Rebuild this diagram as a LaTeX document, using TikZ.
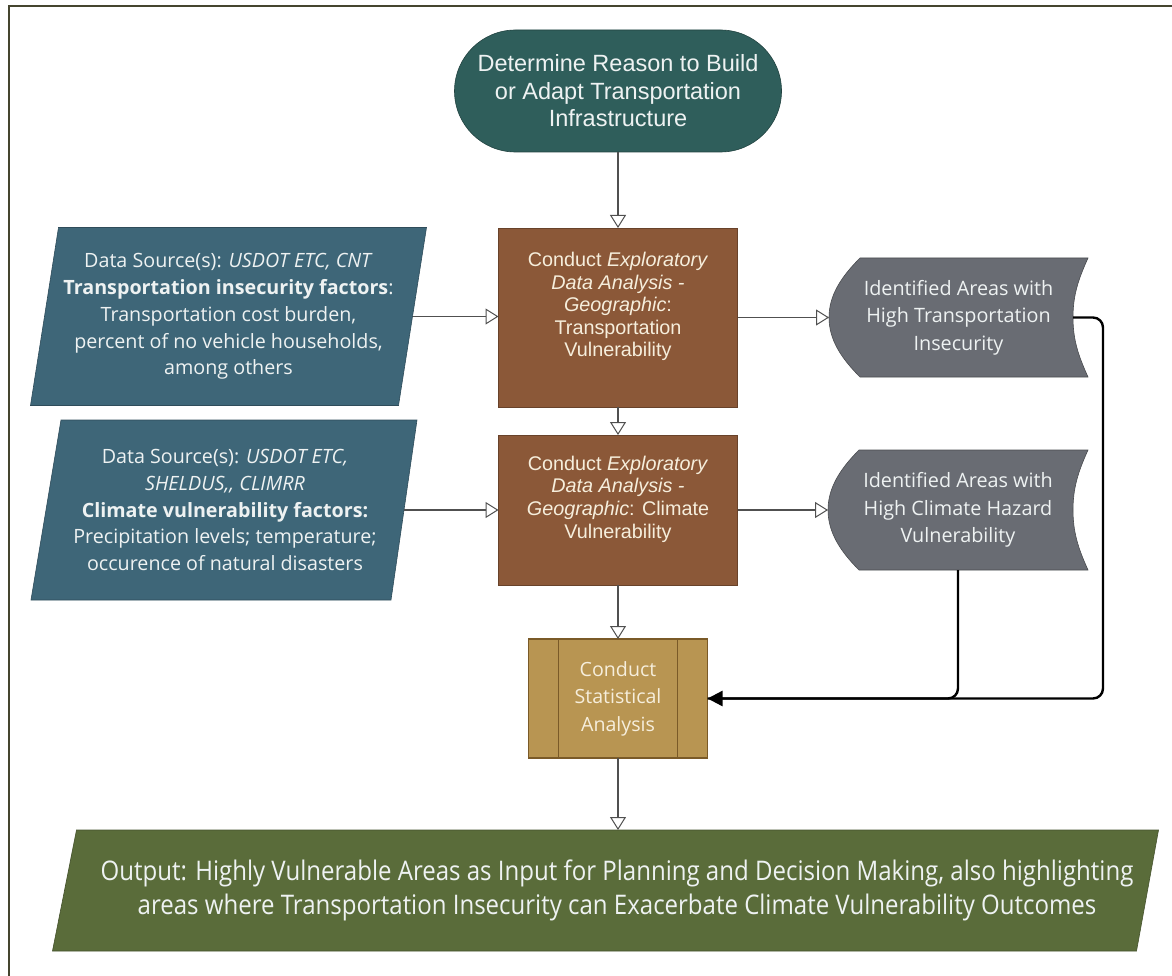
\documentclass[tikz,border=0pt]{standalone}
\usepackage{fontspec}
\setmainfont{Liberation Sans}
\newfontfamily\opensans{Open Sans}
\newfontfamily\condsans[FakeStretch=0.89]{Open Sans}
\usetikzlibrary{arrows.meta,backgrounds}

\definecolor{framecol}{HTML}{45452F}
\definecolor{termfill}{HTML}{2F5E5B}
\definecolor{datafill}{HTML}{3E6678}
\definecolor{edafill}{HTML}{8B5838}
\definecolor{areafill}{HTML}{696C73}
\definecolor{statfill}{HTML}{B89552}
\definecolor{statline}{HTML}{7A5A28}
\definecolor{outfill}{HTML}{5A6C3A}
\definecolor{linegray}{HTML}{505050}
\definecolor{cream}{HTML}{F6EEDC}
\definecolor{paletext}{HTML}{EEF2F2}

\begin{document}
\begin{tikzpicture}[x=1pt,y=-1pt,
  every node/.style={inner sep=0pt, outer sep=0pt},
  flow/.style={draw=linegray, line width=1.1pt,
    -{Triangle[length=13pt,width=16pt,fill=white,line width=1pt]}},
  heavy/.style={draw=black, line width=2.4pt, rounded corners=10pt},
  termbox/.style={rectangle, rounded corners=61pt, minimum width=327pt,
    minimum height=122pt, fill=termfill, draw=termfill!70!black, line width=0.6pt,
    align=center, text=paletext, font=\fontsize{23.5}{27.5}\selectfont},
  datatext/.style={rectangle, align=center, text=paletext,
    font=\opensans\fontsize{19.7}{26.8}\selectfont},
  datashape/.style={fill=datafill, draw=datafill!75!black, line width=0.6pt},
  edabox/.style={rectangle, minimum width=239pt, fill=edafill,
    draw=edafill!75!black, line width=0.8pt},
  edatext/.style={align=center, text=cream,
    font=\fontsize{19.8}{22.6}\selectfont},
  areatext/.style={rectangle, align=center, text=paletext,
    font=\opensans\fontsize{19.8}{27.5}\selectfont},
  areashape/.style={fill=areafill, draw=areafill!70!black, line width=0.6pt},
  statbox/.style={rectangle, minimum width=179pt, minimum height=119pt,
    fill=statfill, draw=statline, line width=1.2pt, align=center, text=cream,
    font=\opensans\fontsize{19.6}{27.5}\selectfont},
  outtext/.style={rectangle, align=center, text=paletext,
    font=\condsans\fontsize{27}{34}\selectfont},
  outshape/.style={fill=outfill, draw=outfill!75!black, line width=0.6pt}
]
\useasboundingbox (0,0) rectangle (1172,976);

% page frame
\draw[framecol, line width=2.6pt] (1172,6) -- (9,6) -- (9,976);

% start terminator
\node[termbox] (start) at (618,91)
  {Determine Reason to Build\\or Adapt Transportation\\Infrastructure};

% data source parallelograms
\node[datatext, minimum width=368pt, minimum height=178pt] (ds1) at (228.5,316.5)
  {Data Source(s): \textit{USDOT ETC, CNT}\\
   \textbf{Transportation insecurity factors}:\\
   Transportation cost burden,\\
   percent of no vehicle households,\\
   among others};
\node[datatext, minimum width=358pt, minimum height=180pt] (ds2) at (225,510)
  {Data Source(s): \textit{USDOT ETC,}\\
   \textit{SHELDUS,, CLIMRR}\\
   \textbf{Climate vulnerability factors:}\\
   Precipitation levels; temperature;\\
   occurence of natural disasters};

% exploratory analysis boxes
\node[edabox, minimum height=179pt] (eda1) at (618,317.5) {};
\node[edatext] (eda1t) at ([yshift=11pt]eda1.center)
  {Conduct \textit{Exploratory}\\\textit{Data Analysis -}\\\textit{Geographic}:\\
   Transportation\\Vulnerability};
\node[edabox, minimum height=150pt] (eda2) at (618,510) {};
\node[edatext] (eda2t) at ([yshift=11pt]eda2.center)
  {Conduct \textit{Exploratory}\\\textit{Data Analysis -}\\
   \textit{Geographic}: Climate\\Vulnerability};

% identified areas (stored data)
\node[areatext, minimum width=259pt, minimum height=119pt] (ti) at (958.5,317.5)
  {Identified Areas with\\High Transportation\\Insecurity};
\node[areatext, minimum width=260pt, minimum height=120pt] (ci) at (958,510)
  {Identified Areas with\\High Climate Hazard\\Vulnerability};

% statistical analysis (predefined process)
\node[statbox] (st) at (618,698.5) {Conduct\\Statistical\\Analysis};
\draw[statline, line width=1.2pt] ([xshift=30pt]st.north west) -- ([xshift=30pt]st.south west);
\draw[statline, line width=1.2pt] ([xshift=-30pt]st.north east) -- ([xshift=-30pt]st.south east);

% output parallelogram
\node[outtext, minimum width=1083pt, minimum height=121pt] (out) at (606,890.5)
  {\hspace*{22pt}Output: Highly Vulnerable Areas as Input for Planning and Decision Making, also highlighting\\
   \hspace*{22pt}areas where Transportation Insecurity can Exacerbate Climate Vulnerability Outcomes};

\begin{scope}[on background layer]
  \draw[datashape] ([xshift=14pt]ds1.north west) -- ([xshift=14pt]ds1.north east)
    -- ([xshift=-14pt]ds1.south east) -- ([xshift=-14pt]ds1.south west) -- cycle;
  \draw[datashape] ([xshift=15pt]ds2.north west) -- ([xshift=13pt]ds2.north east)
    -- ([xshift=-13pt]ds2.south east) -- ([xshift=-15pt]ds2.south west) -- cycle;
  \draw[outshape] ([xshift=12pt]out.north west) -- ([xshift=11pt]out.north east)
    -- ([xshift=-11pt]out.south east) -- ([xshift=-12pt]out.south west) -- cycle;
  \foreach \n in {ti,ci}{
    \draw[areashape] ([xshift=31pt]\n.north west) -- (\n.north east)
      .. controls +(-10,22) and +(0,-22) .. ([xshift=-15pt]\n.east)
      .. controls +(0,22) and +(-10,-22) .. (\n.south east)
      -- ([xshift=31pt]\n.south west)
      .. controls +(-19,-19) and +(0,22) .. (\n.west)
      .. controls +(0,-22) and +(-19,19) .. ([xshift=31pt]\n.north west) -- cycle;
  }
\end{scope}

% flow connectors
\draw[flow] (start.south) -- (eda1.north);
\draw[flow] (eda1.south) -- (eda2.north);
\draw[flow] (eda2.south) -- (st.north);
\draw[flow] (st.south) -- (out.north -| st.south);
\draw[flow] (ds1.east) -- (ds1.east -| eda1.west);
\draw[flow] (ds2.east) -- (eda2.west);
\draw[flow] (eda1.east) -- (ti.west);
\draw[flow] (eda2.east) -- (ci.west);

% results feeding the statistical analysis
\draw[heavy] (ci.south) |- (st.east);
\draw[heavy, -{Triangle[length=15pt,width=15pt]}]
  ([xshift=-15pt]ti.east) -- ([xshift=15pt]ti.east) |- (st.east);
\end{tikzpicture}
\end{document}
